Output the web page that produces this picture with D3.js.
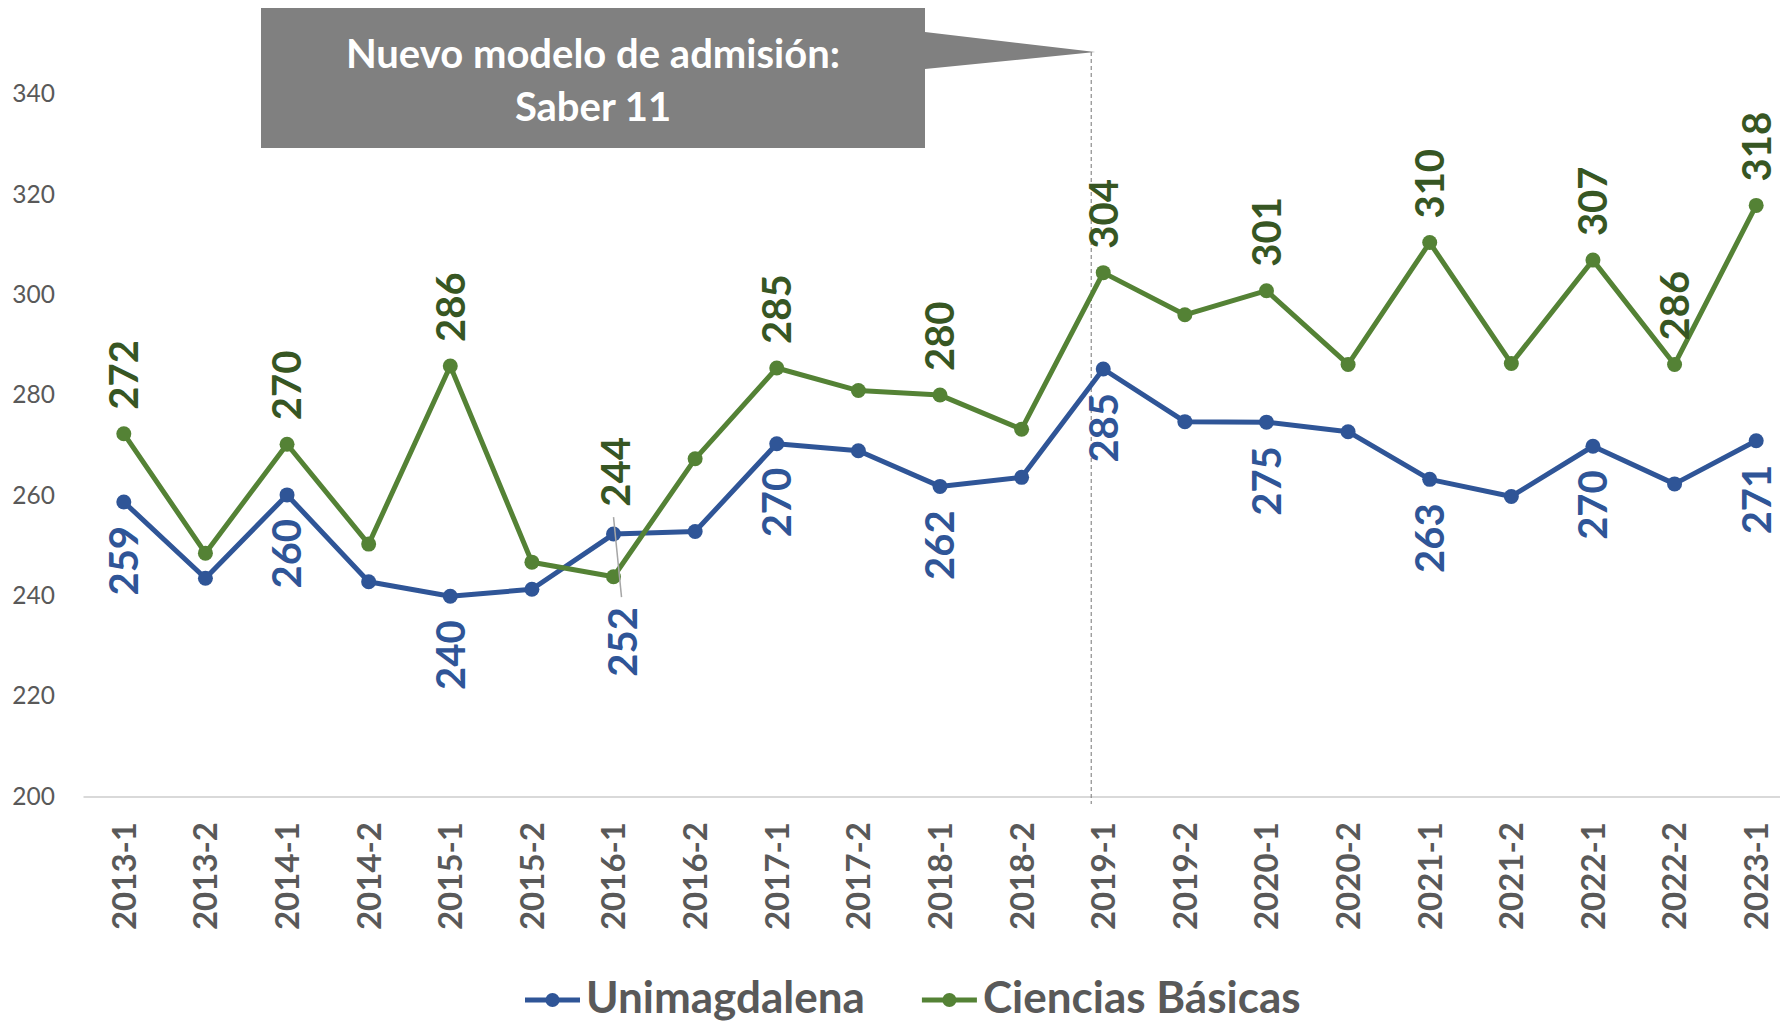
<!DOCTYPE html>
<html>
<head>
<meta charset="utf-8">
<script src="https://cdn.jsdelivr.net/npm/d3@7"></script>
<style>
  body { margin: 0; background: #fff; }
  svg { display: block; }
</style>
</head>
<body>
<div id="chart"></div>
<script>
const semesters = ["2013-1", "2013-2", "2014-1", "2014-2", "2015-1", "2015-2", "2016-1", "2016-2",
	"2017-1", "2017-2", "2018-1", "2018-2", "2019-1", "2019-2", "2020-1", "2020-2",
	"2021-1", "2021-2", "2022-1", "2022-2", "2023-1"];

const unimagdalena = [258.7, 243.5, 260.1, 242.8, 239.9, 241.3, 252.3, 252.8, 270.3, 268.9, 261.8,
	263.6, 285.2, 274.7, 274.6, 272.7, 263.2, 259.8, 269.8, 262.3, 270.9];

const cienciasBasicas = [272.3, 248.5, 270.2, 250.3, 285.8, 246.7, 243.8, 267.3, 285.4, 280.9, 280.0,
	273.2, 304.4, 296.0, 300.8, 286.1, 310.4, 286.3, 306.9, 286.1, 317.8];

// semesters that carry a data label
const labeledUni = ["2013-1", "2014-1", "2015-1", "2016-1", "2017-1", "2018-1", "2019-1",
	"2020-1", "2021-1", "2022-1", "2023-1"];
const labeledCiencias = ["2013-1", "2014-1", "2015-1", "2016-1", "2017-1", "2018-1", "2019-1",
	"2020-1", "2021-1", "2022-1", "2022-2", "2023-1"];

const yTicks = [200, 220, 240, 260, 280, 300, 320, 340];
const seriesNames = ["Unimagdalena", "Ciencias Básicas"];
const calloutLines = ["Nuevo modelo de admisión:", "Saber 11"];
const calloutAt = "2019-1";

const width = 1780, height = 1021;
const blue = "#2f5597", green = "#548235", greenText = "#375623", gray = "#595959";
const font = "Lato, 'Open Sans', sans-serif";

const svg = d3.select("#chart")
	.append("svg")
	.attr("width", width)
	.attr("height", height)
	.style("background-color", "white");

const x = d3.scaleBand().domain(semesters).range([83, 1797]).padding(0);
const y = d3.scaleLinear().domain([200, 340]).range([796.5, 94]);
const cx = d => x(d) + x.bandwidth() / 2;

// y axis (labels only)
const yAxis = svg.append("g")
	.attr("transform", "translate(83,0)")
	.call(d3.axisLeft(y).tickValues(yTicks).tickSize(0).tickPadding(28));
yAxis.select(".domain").remove();
yAxis.selectAll("text")
	.attr("fill", gray)
	.style("font-family", font)
	.style("font-size", "24.5px");

// x axis
const xAxis = svg.append("g")
	.attr("transform", `translate(0,${y(200)})`)
	.call(d3.axisBottom(x).tickSize(0).tickSizeOuter(0));
xAxis.select(".domain")
	.attr("stroke", "#d9d9d9")
	.attr("stroke-width", 2);
xAxis.selectAll("text")
	.attr("transform", "rotate(-90)")
	.attr("x", -25.5)
	.attr("y", 0)
	.attr("dy", "0.36em")
	.attr("text-anchor", "end")
	.attr("fill", gray)
	.style("font-family", font)
	.style("font-weight", "bold")
	.style("font-size", "33px");

// dashed marker for the new admission model
const markX = cx(calloutAt) - 12;
svg.append("line")
	.attr("x1", markX).attr("x2", markX)
	.attr("y1", 52).attr("y2", 804)
	.attr("stroke", "#8c8c8c")
	.attr("stroke-width", 1.2)
	.attr("stroke-dasharray", "4,3");

// callout box
svg.append("path")
	.attr("d", `M261,8 H925 V32 L${markX + 4},52 L925,69 V148 H261 Z`)
	.attr("fill", "#808080");

svg.selectAll(".callout")
	.data(calloutLines)
	.enter()
	.append("text")
	.attr("x", 593)
	.attr("y", (d, i) => 54 + i * 53)
	.attr("dy", "0.36em")
	.attr("text-anchor", "middle")
	.attr("fill", "white")
	.style("font-family", font)
	.style("font-weight", "bold")
	.style("font-size", "40px")
	.text(d => d);

// lines and markers
const series = [
	{ name: seriesNames[0], values: unimagdalena, color: blue, textColor: blue, labeled: labeledUni, above: false },
	{ name: seriesNames[1], values: cienciasBasicas, color: green, textColor: greenText, labeled: labeledCiencias, above: true }
];

const line = d3.line()
	.x((d, i) => cx(semesters[i]))
	.y(d => y(d));

for (let s of series) {
	svg.append("path")
		.datum(s.values)
		.attr("fill", "none")
		.attr("stroke", s.color)
		.attr("stroke-width", 5)
		.attr("stroke-linejoin", "round")
		.attr("d", line);

	svg.append("g")
		.selectAll("circle")
		.data(s.values)
		.enter()
		.append("circle")
		.attr("cx", (d, i) => cx(semesters[i]))
		.attr("cy", d => y(d))
		.attr("r", 7.5)
		.attr("fill", s.color);
}

// labels moved by hand in the original (offset from point: dx, distance)
const moved = { "Unimagdalena|2016-1": [9, 73], "Ciencias Básicas|2016-1": [2, 70] };

for (let s of series) {
	const pts = s.labeled.map(k => ({ k, v: s.values[semesters.indexOf(k)] }));
	svg.append("g")
		.selectAll("text")
		.data(pts)
		.enter()
		.append("text")
		.attr("transform", d => {
			const m = moved[s.name + "|" + d.k] || [0, 24];
			const ty = s.above ? y(d.v) - m[1] : y(d.v) + m[1];
			return `translate(${cx(d.k) + m[0]},${ty}) rotate(-90)`;
		})
		.attr("dy", "0.36em")
		.attr("text-anchor", s.above ? "start" : "end")
		.attr("fill", s.textColor)
		.style("font-family", font)
		.style("font-weight", "bold")
		.style("font-size", "40px")
		.text(d => Math.round(d.v));
}

// leader line for the moved Unimagdalena label
const lk = "2016-1", lv = unimagdalena[semesters.indexOf(lk)];
svg.append("line")
	.attr("x1", cx(lk) + 8).attr("y1", y(lv) + 63)
	.attr("x2", cx(lk)).attr("y2", y(lv) - 17)
	.attr("stroke", "#a6a6a6")
	.attr("stroke-width", 1.5);

// legend
let lx = 525;
const legendY = 1000;
series.forEach((s, i) => {
	const g = svg.append("g").attr("transform", `translate(${lx},${legendY})`);
	g.append("line")
		.attr("x1", 0).attr("x2", 55)
		.attr("stroke", s.color)
		.attr("stroke-width", 5);
	g.append("circle")
		.attr("cx", 27.5)
		.attr("r", 7)
		.attr("fill", s.color);
	const t = g.append("text")
		.attr("x", 61)
		.attr("y", 13)
		.attr("fill", gray)
		.style("font-family", font)
		.style("font-weight", "bold")
		.style("font-size", "44px")
		.text(s.name);
	lx += 61 + t.node().getComputedTextLength() + 57;
});
</script>
</body>
</html>
